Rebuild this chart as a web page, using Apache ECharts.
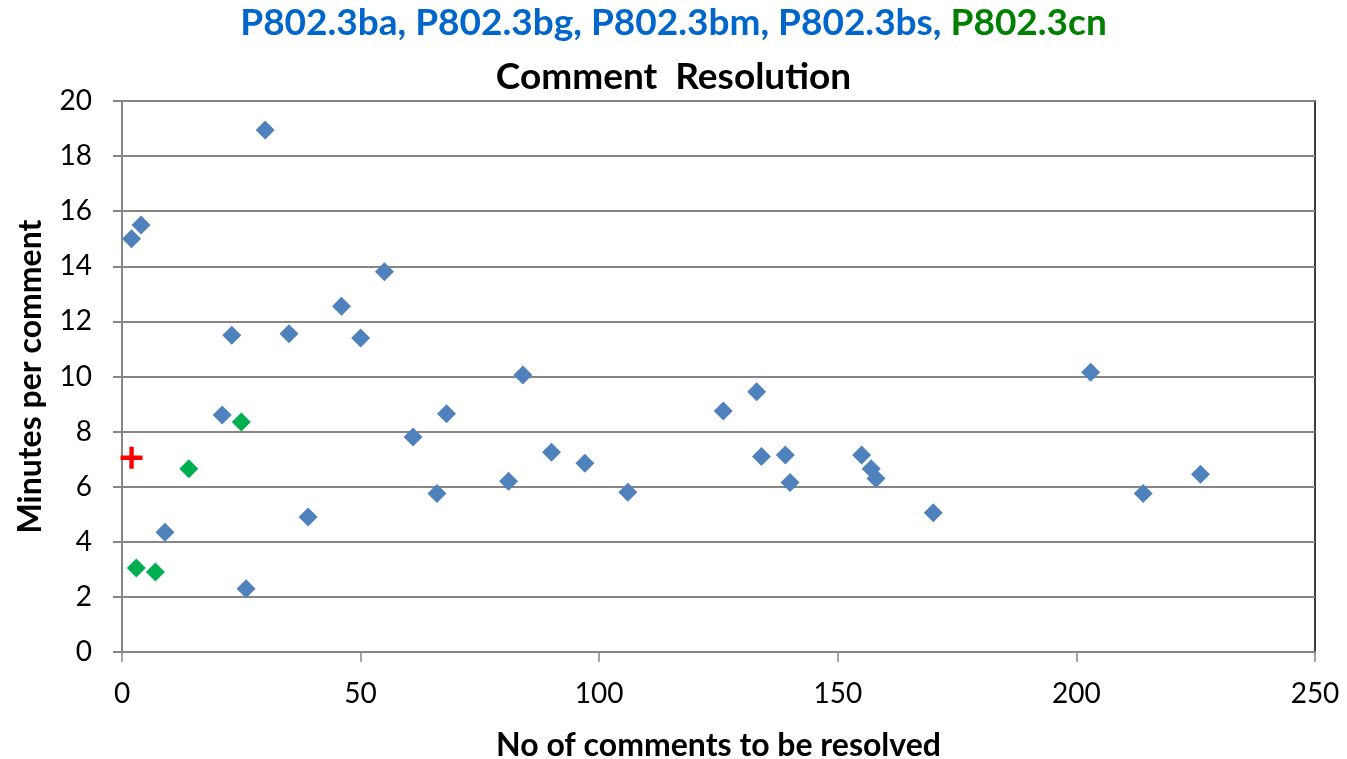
<!DOCTYPE html>
<html>
<head>
<meta charset="utf-8">
<script src="https://cdn.jsdelivr.net/npm/echarts@6/dist/echarts.min.js"></script>
<style>html,body{margin:0;padding:0;background:#fff;}#c{width:1347px;height:759px;}</style>
</head>
<body>
<div id="c"></div>
<script>
// Blue series (P802.3ba/bg/bm/bs): [comments, minutes per comment]
const blueX = [2, 4, 30, 23, 35, 21, 46, 50, 55, 9, 26, 39, 61, 68, 66, 81, 84, 90, 97, 106, 126, 133, 134, 139, 140, 155, 157, 158, 170, 203, 214, 226];
const blueY = [15.0, 15.5, 18.95, 11.5, 11.55, 8.6, 12.55, 11.4, 13.8, 4.35, 2.3, 4.9, 7.8, 8.65, 5.75, 6.2, 10.05, 7.25, 6.85, 5.8, 8.75, 9.45, 7.1, 7.15, 6.15, 7.15, 6.65, 6.3, 5.05, 10.15, 5.75, 6.45];
// Green series (P802.3cn)
const greenX = [3, 7, 14, 25];
const greenY = [3.05, 2.9, 6.65, 8.35];
// Red marker
const redX = [2];
const redY = [7.05];
const xTicks = [0, 50, 100, 150, 200, 250];
const yTicks = [0, 2, 4, 6, 8, 10, 12, 14, 16, 18, 20];

const zip = (a, b) => a.map((v, i) => [v, b[i]]);
const F = 'Lato, "Open Sans", sans-serif';
const chart = echarts.init(document.getElementById('c'));
chart.setOption({
  animation: false,
  backgroundColor: '#fff',
  title: [{
    left: 'center', top: 0,
    text: '{b|P802.3ba, P802.3bg, P802.3bm, P802.3bs, }{g|P802.3cn}',
    textStyle: {
      rich: {
        b: {fontFamily: F, fontWeight: 'bold', fontSize: 37, color: '#0066CC'},
        g: {fontFamily: F, fontWeight: 'bold', fontSize: 37, color: '#008000'}
      }
    }
  }, {
    left: 'center', top: 54,
    text: 'Comment  Resolution',
    textStyle: {fontFamily: F, fontWeight: 'bold', fontSize: 37, color: '#000'}
  }],
  grid: {
    left: 122, right: 32, top: 101, bottom: 107,
    outerBoundsMode: 'none', containLabel: false,
    show: true, borderColor: '#000', borderWidth: 1.5, backgroundColor: 'transparent'
  },
  xAxis: {
    type: 'value', min: 0, max: 250, interval: 50,
    name: 'No of comments to be resolved', nameLocation: 'middle', nameGap: 78,
    nameTextStyle: {fontFamily: F, fontWeight: 'bold', fontSize: 32, color: '#000'},
    axisLine: {show: true, lineStyle: {color: '#868686', width: 2}},
    axisTick: {show: true, length: 10, lineStyle: {color: '#868686', width: 1.5}},
    axisLabel: {margin: 28, fontFamily: F, fontSize: 28, color: '#000',
      formatter: v => xTicks.includes(v) ? String(v) : ''},
    splitLine: {show: false}
  },
  yAxis: {
    type: 'value', min: 0, max: 20, interval: 2,
    name: 'Minutes per comment', nameLocation: 'middle', nameGap: 75,
    nameTextStyle: {fontFamily: F, fontWeight: 'bold', fontSize: 32, color: '#000'},
    axisLine: {show: true, lineStyle: {color: '#868686', width: 2}},
    axisTick: {show: true, length: 9, lineStyle: {color: '#868686', width: 2}},
    axisLabel: {margin: 30, fontFamily: F, fontSize: 28, color: '#000',
      formatter: v => yTicks.includes(v) ? String(v) : ''},
    splitLine: {show: true, lineStyle: {color: '#868686', width: 2}}
  },
  series: [{
    type: 'scatter', data: zip(blueX, blueY), symbol: 'diamond', symbolSize: 19,
    itemStyle: {color: '#4F81BD', opacity: 1}
  }, {
    type: 'scatter', data: zip(greenX, greenY), symbol: 'diamond', symbolSize: 19,
    itemStyle: {color: '#00B050', opacity: 1}
  }, {
    type: 'scatter', data: zip(redX, redY),
    symbol: 'path://M4,0H6V4H10V6H6V10H4V6H0V4H4Z', symbolSize: 22,
    itemStyle: {color: '#FF0000', opacity: 1}
  }]
});
</script>
</body>
</html>
